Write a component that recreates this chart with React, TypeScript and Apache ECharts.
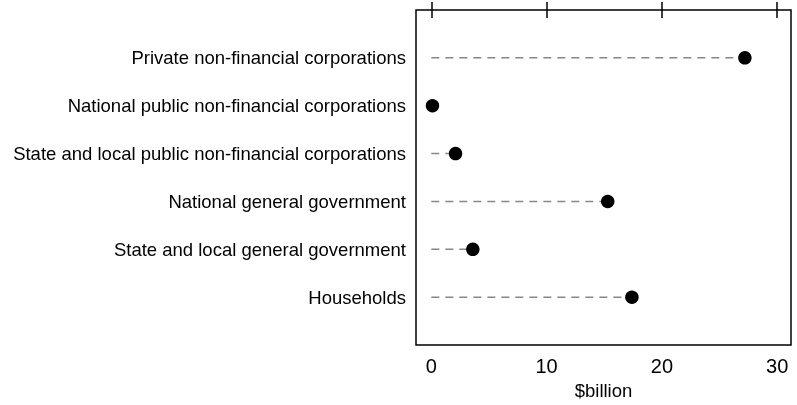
import React, { useEffect, useRef } from "react";
import * as echarts from "echarts";

const categories = [
  "Private non-financial corporations",
  "National public non-financial corporations",
  "State and local public non-financial corporations",
  "National general government",
  "State and local general government",
  "Households",
];
const values = [27.2, 0.1, 2.1, 15.3, 3.6, 17.4];
const tickValues = [0, 10, 20, 30];
const axisName = "$billion";

const FONT = "'Liberation Sans', Arial, sans-serif";

export default function App() {
  const ref = useRef<HTMLDivElement>(null);
  useEffect(() => {
    if (!ref.current) return;
    const chart = echarts.init(ref.current, undefined, { renderer: "svg" });
    const pts = values.map((v, i) => [v, i + 1]);
    const xCommon = {
      type: "value" as const,
      min: -1.33,
      max: 31.2,
      splitLine: { show: false },
      axisLine: { show: false },
    };
    chart.setOption({
      animation: false,
      textStyle: { fontFamily: FONT },
      grid: {
        left: 416,
        top: 10,
        right: 6,
        bottom: 59,
        show: true,
        borderColor: "#000",
        borderWidth: 1.5,
        containLabel: false,
      },
      xAxis: [
        {
          ...xCommon,
          position: "bottom",
          name: axisName,
          nameLocation: "middle",
          nameGap: 35,
          nameTextStyle: { fontSize: 18.5, color: "#000", fontFamily: FONT },
          axisTick: {
            show: true,
            length: 8,
            customValues: tickValues,
            lineStyle: { color: "#000", width: 1.5 },
          },
          axisLabel: {
            customValues: tickValues,
            fontSize: 20,
            color: "#000",
            margin: 11,
            fontFamily: FONT,
          },
        },
        {
          ...xCommon,
          position: "top",
          axisTick: {
            show: true,
            length: 8,
            customValues: tickValues,
            lineStyle: { color: "#000", width: 1.5 },
          },
          axisLabel: { show: false },
        },
      ],
      yAxis: {
        type: "value",
        min: 0,
        max: 7,
        interval: 1,
        inverse: true,
        splitLine: { show: false },
        axisLine: { show: false },
        axisTick: { show: false },
        axisLabel: {
          fontSize: 18.5,
          color: "#000",
          margin: 10,
          fontFamily: FONT,
          formatter: (val: number) => categories[val - 1] ?? "",
        },
      },
      series: [
        {
          type: "custom",
          xAxisIndex: 0,
          data: pts,
          encode: { x: 0, y: 1 },
          renderItem: (params: any, api: any) => {
            const v = api.value(0);
            const y = api.value(1);
            const s = api.coord([0, y]);
            const e = api.coord([v, y]);
            return {
              type: "line",
              shape: { x1: s[0], y1: s[1], x2: e[0], y2: e[1] },
              style: { stroke: "#888", lineWidth: 1.5, lineDash: [8, 6] },
            };
          },
          z: 1,
        },
        {
          type: "scatter",
          xAxisIndex: 0,
          data: pts,
          symbol: "circle",
          symbolSize: 13.5,
          itemStyle: { color: "#000", opacity: 1 },
          z: 2,
        },
      ],
    });
    return () => chart.dispose();
  }, []);
  return (
    <div
      ref={ref}
      style={{ position: "fixed", left: 0, top: 0, width: 797, height: 405 }}
    />
  );
}
